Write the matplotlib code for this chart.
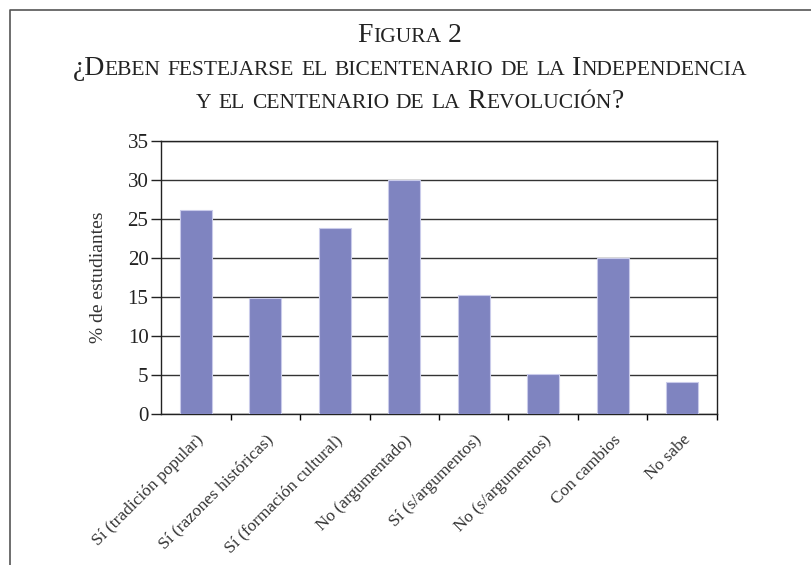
import matplotlib
matplotlib.use("Agg")
import matplotlib.pyplot as plt
from matplotlib.offsetbox import HPacker, TextArea, AnnotationBbox
from matplotlib.lines import Line2D

categories = ["Sí (tradición popular)", "Sí (razones históricas)", "Sí (formación cultural)",
              "No (argumentado)", "Sí (s/argumentos)", "No (s/argumentos)",
              "Con cambios", "No sabe"]
values = [26.2, 14.9, 23.9, 30.0, 15.3, 5.1, 20.0, 4.1]
yticks = [0, 5, 10, 15, 20, 25, 30, 35]
title_lines = ["Figura 2",
               "¿Deben festejarse el bicentenario de la Independencia",
               "y el centenario de la Revolución?"]
ylabel = "% de estudiantes"

SERIF = "Liberation Serif"
plt.rcParams["font.family"] = [SERIF, "DejaVu Serif"]

fig = plt.figure(figsize=(8.11, 5.65), dpi=100)
ax = fig.add_axes([161/811, 1-414/565, (717-161)/811, (414-141)/565])

x = list(range(len(categories)))
ax.bar(x, values, width=0.46, color="#7F84C0", edgecolor="#C9CBEA", linewidth=0.8, zorder=3)
ax.set_xlim(-0.5, len(categories) - 0.5)
ax.set_ylim(0, 35)
ax.set_yticks(yticks)
ax.set_yticklabels([str(v) for v in yticks], fontsize=15, color="#222222")
ax.yaxis.grid(True, color="#333333", linewidth=1.0, zorder=1)
ax.set_axisbelow(True)
ax.tick_params(axis="y", direction="out", length=7, width=1, pad=2, colors="#222222")

bounds = [i + 0.5 for i in range(len(categories))]
ax.set_xticks(bounds)
ax.set_xticklabels([])
ax.tick_params(axis="x", direction="out", length=4, width=1)
ax.set_xticks(x, minor=True)
ax.set_xticklabels(categories, minor=True, rotation=45, ha="right",
                   rotation_mode="anchor", fontsize=12.5, color="#333333")
ax.tick_params(axis="x", which="minor", length=0, pad=13)
for s in ax.spines.values():
    s.set_color("#222222")
    s.set_linewidth(1.0)

ax.set_ylabel(ylabel, fontsize=14, color="#333333", labelpad=15)


def small_caps_line(text, big, small):
    words = []
    for w in text.split(" "):
        runs = []
        cur = ""
        cur_big = None
        for ch in w:
            isbig = ch.isupper() or ch.isdigit() or ch in "¿?"
            if cur_big is None or isbig == cur_big:
                cur += ch
            else:
                runs.append((cur, cur_big))
                cur = ch
            cur_big = isbig
        if cur:
            runs.append((cur, cur_big))
        boxes = [TextArea(r.upper(), textprops=dict(fontsize=big if b else small,
                                                    color="#222222", family=SERIF))
                 for r, b in runs]
        words.append(HPacker(children=boxes, sep=0, pad=0, align="baseline"))
    return HPacker(children=words, sep=small * 0.33, pad=0, align="baseline")


line_specs = [(title_lines[0], 20, 15.5, 1 - 36/565),
              (title_lines[1], 20, 15.5, 1 - 68/565),
              (title_lines[2], 20, 15.5, 1 - 101/565)]
for txt, big, small, yy in line_specs:
    box = small_caps_line(txt, big, small)
    ab = AnnotationBbox(box, (0.505, yy), xycoords="figure fraction",
                        frameon=False, box_alignment=(0.5, 0.5), pad=0)
    fig.add_artist(ab)

# outer frame (top and left edges)
fig.add_artist(Line2D([10/811, 10/811, 1.0], [0.0, 1 - 10/565, 1 - 10/565],
                      transform=fig.transFigure, color="#555555", linewidth=1.2))

fig.savefig("out.png", dpi=100)
